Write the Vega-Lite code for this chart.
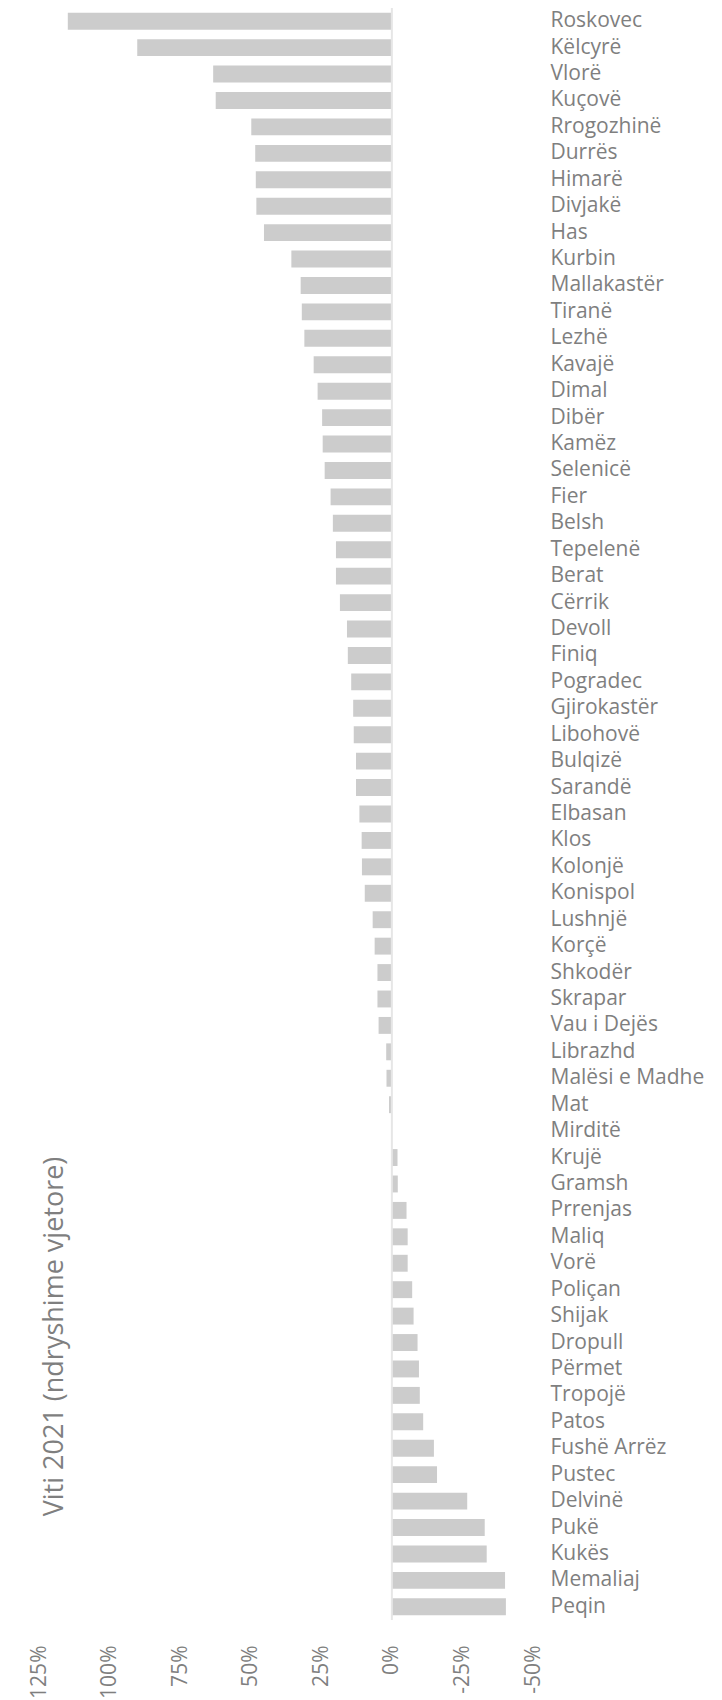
{
  "$schema": "https://vega.github.io/schema/vega-lite/v6.json",
  "width": 494,
  "height": 1612,
  "autosize": "none",
  "padding": {"left": 39, "top": 8, "right": 189, "bottom": 80},
  "config": {"view": {"stroke": null}, "font": "Open Sans"},
  "layer": [
    {
      "data": {
        "values": [
          {"name": "Roskovec", "value": 114.8},
          {"name": "Këlcyrë", "value": 90.2},
          {"name": "Vlorë", "value": 63.3},
          {"name": "Kuçovë", "value": 62.4},
          {"name": "Rrogozhinë", "value": 49.8},
          {"name": "Durrës", "value": 48.4},
          {"name": "Himarë", "value": 48.2},
          {"name": "Divjakë", "value": 48.0},
          {"name": "Has", "value": 45.3},
          {"name": "Kurbin", "value": 35.6},
          {"name": "Mallakastër", "value": 32.3},
          {"name": "Tiranë", "value": 31.9},
          {"name": "Lezhë", "value": 31.0},
          {"name": "Kavajë", "value": 27.7},
          {"name": "Dimal", "value": 26.3},
          {"name": "Dibër", "value": 24.7},
          {"name": "Kamëz", "value": 24.5},
          {"name": "Selenicë", "value": 23.8},
          {"name": "Fier", "value": 21.7},
          {"name": "Belsh", "value": 20.9},
          {"name": "Tepelenë", "value": 19.8},
          {"name": "Berat", "value": 19.8},
          {"name": "Cërrik", "value": 18.4},
          {"name": "Devoll", "value": 15.9},
          {"name": "Finiq", "value": 15.6},
          {"name": "Pogradec", "value": 14.4},
          {"name": "Gjirokastër", "value": 13.7},
          {"name": "Libohovë", "value": 13.5},
          {"name": "Bulqizë", "value": 12.7},
          {"name": "Sarandë", "value": 12.7},
          {"name": "Elbasan", "value": 11.5},
          {"name": "Klos", "value": 10.7},
          {"name": "Kolonjë", "value": 10.6},
          {"name": "Konispol", "value": 9.6},
          {"name": "Lushnjë", "value": 6.8},
          {"name": "Korçë", "value": 6.1},
          {"name": "Shkodër", "value": 5.1},
          {"name": "Skrapar", "value": 5.1},
          {"name": "Vau i Dejës", "value": 4.7},
          {"name": "Librazhd", "value": 2.0},
          {"name": "Malësi e Madhe", "value": 1.9},
          {"name": "Mat", "value": 1.0},
          {"name": "Mirditë", "value": 0.0},
          {"name": "Krujë", "value": -2.0},
          {"name": "Gramsh", "value": -2.1},
          {"name": "Prrenjas", "value": -5.2},
          {"name": "Maliq", "value": -5.6},
          {"name": "Vorë", "value": -5.6},
          {"name": "Poliçan", "value": -7.2},
          {"name": "Shijak", "value": -7.7},
          {"name": "Dropull", "value": -9.1},
          {"name": "Përmet", "value": -9.6},
          {"name": "Tropojë", "value": -9.9},
          {"name": "Patos", "value": -11.1},
          {"name": "Fushë Arrëz", "value": -14.9},
          {"name": "Pustec", "value": -16.0},
          {"name": "Delvinë", "value": -26.7},
          {"name": "Pukë", "value": -32.9},
          {"name": "Kukës", "value": -33.6},
          {"name": "Memaliaj", "value": -40.1},
          {"name": "Peqin", "value": -40.4}
        ]
      },
      "mark": {"type": "bar", "color": "#cccccc"},
      "encoding": {
        "y": {
          "field": "name",
          "type": "nominal",
          "sort": null,
          "scale": {"paddingInner": 0.36, "paddingOuter": 0.18},
          "axis": {
            "orient": "right",
            "title": "Viti 2021 (ndryshime vjetore)",
            "titleX": -479,
            "titleY": 1328,
            "titleAngle": 270,
            "titleAlign": "center",
            "titleBaseline": "middle",
            "titleFontSize": 27,
            "titleFontWeight": "normal",
            "titleColor": "#7f7f7f",
            "labelFontSize": 21,
            "labelColor": "#7f7f7f",
            "labelPadding": 17,
            "labelAlign": "left",
            "ticks": false,
            "domain": false,
            "grid": false
          }
        },
        "x": {
          "field": "value",
          "type": "quantitative",
          "scale": {"domain": [-50, 125], "reverse": true, "nice": false, "zero": false},
          "axis": {
            "values": [-50, -25, 0, 25, 50, 75, 100, 125],
            "labelExpr": "datum.value + '%'",
            "labelAngle": 270,
            "labelFontSize": 21,
            "labelColor": "#7f7f7f",
            "labelPadding": 25,
            "labelFlush": false,
            "labelOverlap": false,
            "ticks": false,
            "domain": false,
            "grid": false,
            "title": null
          }
        }
      }
    },
    {
      "data": {"values": [{"zero": 0}]},
      "mark": {"type": "rule", "color": "#e6e6e6", "strokeWidth": 2},
      "encoding": {"x": {"field": "zero", "type": "quantitative"}}
    }
  ]
}
